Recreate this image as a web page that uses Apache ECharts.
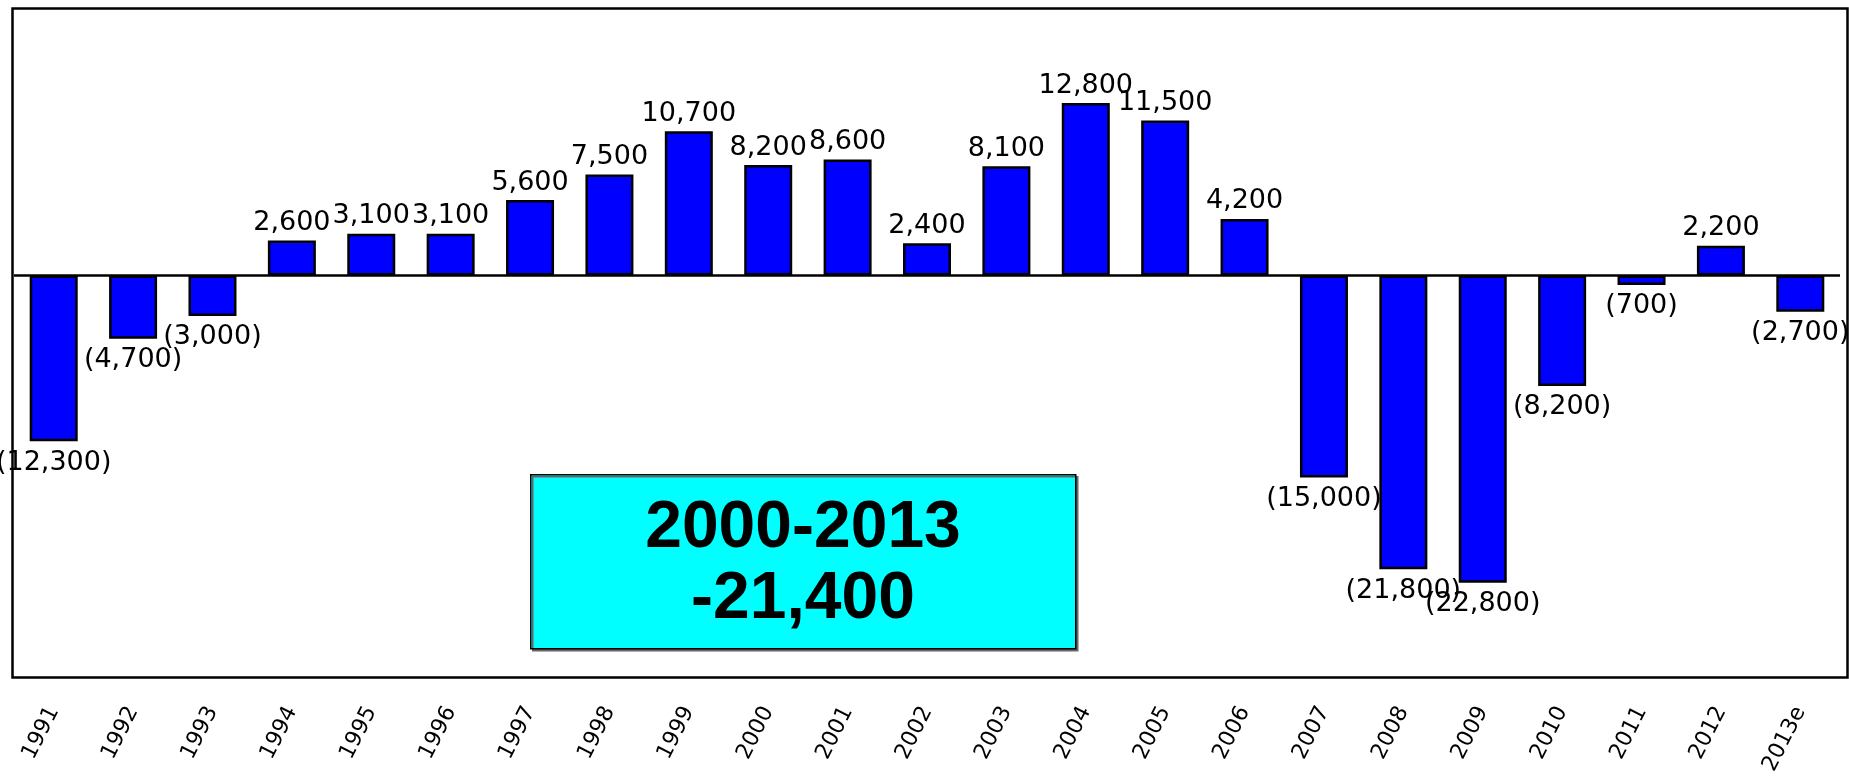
<!DOCTYPE html>
<html>
<head>
<meta charset="utf-8">
<script src="https://cdn.jsdelivr.net/npm/echarts@6/dist/echarts.min.js"></script>
<style>
html,body{margin:0;padding:0;background:#fff;}
#chart{width:1849px;height:779px;}
</style>
</head>
<body>
<div id="chart"></div>
<script>
const categories = ['1991','1992','1993','1994','1995','1996','1997','1998','1999','2000','2001','2002','2003','2004','2005','2006','2007','2008','2009','2010','2011','2012','2013e'];
const values = [-12300,-4700,-3000,2600,3100,3100,5600,7500,10700,8200,8600,2400,8100,12800,11500,4200,-15000,-21800,-22800,-8200,-700,2200,-2700];
const boxLine1 = '2000-2013';
const boxLine2 = '-21,400';

function fmt(v){
  const s = Math.abs(v).toLocaleString('en-US');
  return v < 0 ? '(' + s + ')' : s;
}

const chart = echarts.init(document.getElementById('chart'), null, {renderer:'canvas'});
chart.setOption({
  animation:false,
  backgroundColor:'#fff',
  grid:{left:14, top:6, width:1826, height:669, show:false},
  xAxis:{
    type:'category',
    data:categories,
    axisLine:{show:false, onZero:false},
    axisTick:{show:false},
    axisLabel:{
      rotate:63, margin:33, interval:0,
      fontFamily:'DejaVu Sans', fontSize:22, color:'#000'
    },
    splitLine:{show:false}
  },
  yAxis:{
    type:'value', min:-29650, max:20000,
    show:false, splitLine:{show:false}
  },
  series:[{
    type:'bar',
    barWidth:48,
    data:values.map(v => ({
      value:v,
      label:{position: v < 0 ? 'bottom' : 'top', distance: v < 0 ? 8 : 4}
    })),
    itemStyle:{color:'#0000FF', borderColor:'#000', borderWidth:2.5},
    label:{
      show:true,
      fontFamily:'DejaVu Sans', fontSize:27, color:'#000',
      formatter:p => fmt(p.value)
    },
    markLine:{
      silent:true, symbol:'none',
      label:{show:false},
      lineStyle:{color:'#000', width:2.5, type:'solid'},
      data:[{yAxis:0}]
    }
  }],
  graphic:[
    {type:'rect', left:10, top:6, shape:{width:1835, height:669},
     style:{fill:null, stroke:'#000', lineWidth:2.5}, z:10},
    {type:'rect', left:530, top:474, shape:{width:545, height:174},
     style:{fill:'#00FFFF', stroke:'#000', lineWidth:1.5,
            shadowColor:'#666', shadowOffsetX:2, shadowOffsetY:2, shadowBlur:0}, z:20},
    {type:'text', x:803, y:529, z:21,
     style:{text:boxLine1, fontFamily:'Liberation Sans', fontWeight:'bold', fontSize:66,
            fill:'#000', align:'center', verticalAlign:'middle'}},
    {type:'text', x:803, y:600, z:21,
     style:{text:boxLine2, fontFamily:'Liberation Sans', fontWeight:'bold', fontSize:66,
            fill:'#000', align:'center', verticalAlign:'middle'}}
  ]
});
</script>
</body>
</html>
